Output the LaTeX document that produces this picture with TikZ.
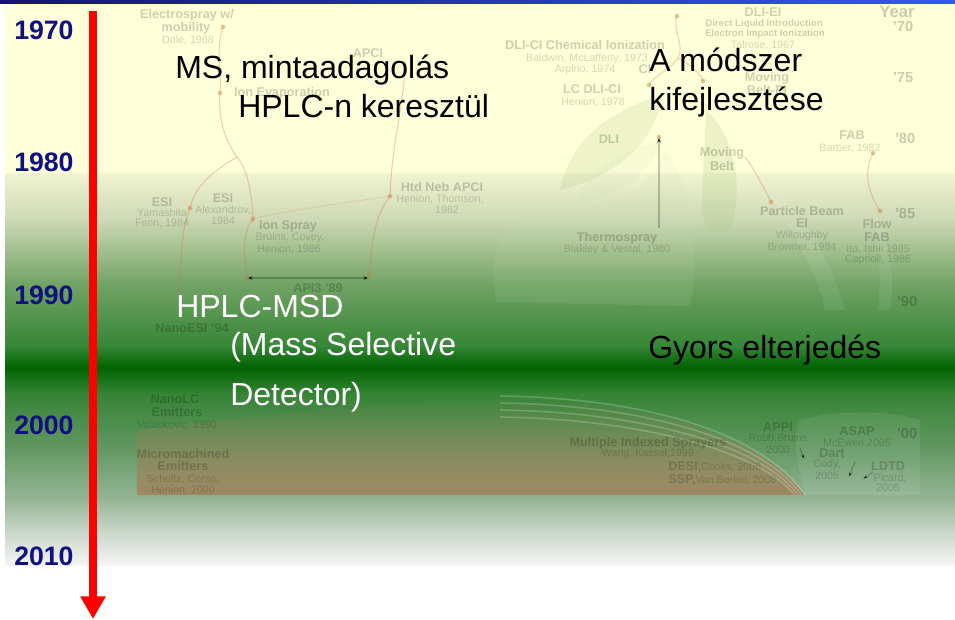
\documentclass[tikz,border=0pt]{standalone}
\usepackage{fontspec}
\setmainfont{Liberation Sans}
\usetikzlibrary{arrows.meta,fadings}

% palette
\definecolor{yearblue}{RGB}{16,16,128}
\definecolor{arrowred}{RGB}{255,0,0}
\definecolor{barnavy}{RGB}{20,20,110}
\definecolor{barblue}{RGB}{50,90,240}
\definecolor{branch}{RGB}{205,120,70}
\definecolor{leaf}{RGB}{170,200,130}
\definecolor{soil}{RGB}{160,125,85}
% background ramp, top to bottom
\definecolor{bgA}{RGB}{255,255,218}
\definecolor{bgB}{RGB}{240,243,208}
\definecolor{bgC}{RGB}{205,216,180}
\definecolor{bgD}{RGB}{112,162,100}
\definecolor{bgE}{RGB}{55,135,55}
\definecolor{bgF}{RGB}{0,100,0}
\definecolor{bgG}{RGB}{55,132,55}
\definecolor{bgH}{RGB}{100,152,100}
\definecolor{bgI}{RGB}{150,182,150}
\definecolor{bgJ}{RGB}{200,212,200}
\definecolor{bgK}{RGB}{245,245,245}

% stops: position p (px from top) maps to 75bp - 50bp*(p-3)/562
\pgfdeclareverticalshading{slidebg}{100bp}{%
  color(0bp)=(bgK); color(25bp)=(bgK); color(28.1bp)=(bgJ);
  color(30.8bp)=(bgI); color(35.2bp)=(bgH); color(40.2bp)=(bgG);
  color(42.6bp)=(bgF); color(44.5bp)=(bgE); color(49.9bp)=(bgD);
  color(55.7bp)=(bgC); color(59.8bp)=(bgB); color(60bp)=(bgA);
  color(100bp)=(bgA)}

\tikzset{
  fadetitle/.style={font=\bfseries\fontsize{9.5}{11}\selectfont, text=black, text opacity=.19, inner sep=0},
  fadeauthor/.style={font=\fontsize{8}{9.5}\selectfont, text=black, text opacity=.16, inner sep=0},
  fadesmall/.style={font=\bfseries\fontsize{7.2}{8.5}\selectfont, text=black, text opacity=.19, inner sep=0},
  fadeyear/.style={font=\bfseries\fontsize{11}{13}\selectfont, text=black, text opacity=.2, inner sep=0},
  yearlbl/.style={font=\bfseries\fontsize{20}{24}\selectfont, text=yearblue, anchor=west, inner sep=0},
  maintxt/.style={font=\fontsize{24}{28}\selectfont, anchor=base west, inner sep=0},
  branchline/.style={draw=branch, draw opacity=.33, line width=0.8pt},
  branchdot/.style={circle, fill=branch, fill opacity=.45, minimum size=3.5pt, inner sep=0},
  fadearrow/.style={draw=black, draw opacity=.22, line width=0.8pt},
}

\begin{document}
\begin{tikzpicture}[x=0.75pt, y=-0.75pt]
\useasboundingbox (0,0) rectangle (955,619);
\fill[white] (0,0) rectangle (955,619);

% slide background and title bar
\shade[shading=slidebg] (5,3) rectangle (955,565);
\shade[left color=barnavy, right color=barblue] (0,0) rectangle (955,3.5);

% ---- faded history tree ----
% leaves and bands
\fill[leaf, opacity=.2] (560,190) .. controls (570,140) and (610,110) .. (662,95)
      .. controls (656,140) and (620,175) .. (560,190) -- cycle;
\fill[leaf!60!white, opacity=.1] (497,302) .. controls (484,250) and (502,214) .. (560,210)
      .. controls (620,205) and (650,190) .. (665,150)
      .. controls (690,180) and (702,250) .. (690,306) -- cycle;
\fill[leaf!60!white, opacity=.14] (575,205) .. controls (590,165) and (625,150) .. (662,140)
      .. controls (650,175) and (620,195) .. (575,205) -- cycle;
\fill[leaf, opacity=.22] (706,110) .. controls (740,140) and (742,200) .. (730,228)
      .. controls (715,238) and (700,230) .. (702,200) -- cycle;
\fill[white, opacity=.07] (748,165) .. controls (790,200) and (830,250) .. (845,310)
      -- (825,310) .. controls (815,260) and (780,215) .. (748,165) -- cycle;
\fill[white, opacity=.07] (872,210) .. controls (892,240) and (895,280) .. (890,310)
      -- (878,310) .. controls (882,270) and (878,240) .. (872,210) -- cycle;

% soil band at the foot of the tree
\fill[soil, opacity=.8, path fading=north] (137,430) .. controls (250,415) and (400,400) .. (500,398)
      .. controls (620,396) and (760,430) .. (805,495) -- (137,495) -- cycle;
\fill[white, opacity=.08] (800,420) .. controls (840,408) and (900,412) .. (920,420)
      -- (920,495) -- (805,495) .. controls (800,470) and (790,440) .. (800,420) -- cycle;
\foreach \d in {0,7,14,21} {
  \draw[white, opacity=.2, line width=1.2pt]
    (500,396+\d) .. controls (640,398+\d) and (760,430+\d) .. (805-\d*0.5,495);
}

% branches
\coordinate (pEsw) at (223,27);
\coordinate (pIonEv) at (220,93);
\coordinate (pFork) at (237,157);
\coordinate (pEsiA) at (190,208);
\coordinate (pEsiB) at (180,300);
\coordinate (pIonSp) at (253,219);
\coordinate (pApiL) at (247,278);
\coordinate (pApciTop) at (405,62);
\coordinate (pHtd) at (390,196);
\coordinate (pApiR) at (369,275);
\coordinate (pDliTop) at (677,16);
\coordinate (pDliFork) at (678,58);
\coordinate (pDliCi) at (649,85);
\coordinate (pMoving) at (703,81);
\coordinate (pDli) at (659,137);
\coordinate (pThermo) at (659,228);
\coordinate (pBeltEnd) at (745,157);
\coordinate (pBeam) at (771,202);
\coordinate (pFab) at (873,153);
\coordinate (pFlow) at (880,211);

\draw[branchline] (pEsw) .. controls (215,50) and (222,75) .. (pIonEv)
      .. controls (218,120) and (225,140) .. (pFork);
\draw[branchline] (pFork) .. controls (215,170) and (195,185) .. (pEsiA)
      .. controls (183,225) and (180,250) .. (pEsiB);
\draw[branchline] (pFork) .. controls (248,170) and (252,195) .. (pIonSp)
      .. controls (240,235) and (245,260) .. (pApiL);
\draw[branchline, draw opacity=.15] (pIonSp) .. controls (290,210) and (330,205) .. (pHtd);
\draw[branchline] (pApciTop) .. controls (405,100) and (392,140) .. (pHtd)
      .. controls (375,215) and (372,240) .. (pApiR);
\draw[branchline] (pDliTop) .. controls (672,30) and (685,45) .. (pDliFork)
      .. controls (670,70) and (655,75) .. (pDliCi);
\draw[branchline] (pDliFork) .. controls (690,65) and (700,72) .. (pMoving);
\draw[branchline] (pBeltEnd) .. controls (755,170) and (765,190) .. (pBeam);
\draw[branchline] (pFab) .. controls (862,175) and (870,195) .. (pFlow);

\foreach \p in {pEsw,pIonEv,pEsiA,pIonSp,pApiL,pHtd,pApiR,pDliTop,pDliCi,pMoving,pDli,pBeam,pFab,pFlow}
  \node[branchdot] at (\p) {};

\draw[fadearrow, -{Stealth[length=5pt,width=4pt]}] (pThermo) -- (pDli);
\draw[fadearrow, {Stealth[length=5pt,width=4pt]}-{Stealth[length=5pt,width=4pt]}] (pApiL) -- (pApiR |- pApiL);

\coordinate (aA1) at (800,448); \coordinate (aA2) at (804,459);
\coordinate (aB1) at (855,461); \coordinate (aB2) at (849,477);
\coordinate (aC1) at (873,472); \coordinate (aC2) at (863,479);
\draw[fadearrow, -{Stealth[length=4pt,width=3pt]}] (aA1) -- (aA2);
\draw[fadearrow, -{Stealth[length=4pt,width=3pt]}] (aB1) -- (aB2);
\draw[fadearrow, -{Stealth[length=4pt,width=3pt]}] (aC1) -- (aC2);

% labels of the tree
\node[fadetitle] (esw1) at (187,15) {Electrospray w/};
\node[fadetitle] (esw2) at (186,28) {mobility};
\node[fadeauthor] (esw3) at (188,40) {Dole, 1968};
\node[fadetitle] (apci) at (368,53) {APCI};
\node[fadetitle] (ionev) at (282,93) {Ion Evaporation};
\node[fadetitle] (dlici1) at (585,45) {DLI-CI Chemical Ionization};
\node[fadeauthor] (dlici2) at (587,59) {Baldwin, McLafferty, 1973};
\node[fadeauthor] (dlici3) at (585,70) {Arpino, 1974};
\node[fadetitle] (ci) at (645,69) {CI};
\node[fadetitle] (lcdli1) at (592,89) {LC DLI-CI};
\node[fadeauthor] (lcdli2) at (593,102) {Henion, 1978};
\node[fadetitle] (dli) at (609,139) {DLI};
\node[fadetitle] (dliei1) at (763,12) {DLI-EI};
\node[fadesmall] (dliei2) at (764,24) {Direct Liquid Introduction};
\node[fadesmall] (dliei3) at (765,34) {Electron Impact Ionization};
\node[fadeauthor] (dliei4) at (763,45) {Talrose, 1967};
\node[fadetitle] (mbei1) at (767,78) {Moving};
\node[fadetitle] (mbei2) at (767,90) {Belt-EI};
\node[fadetitle] (fab1) at (852,135) {FAB};
\node[fadeauthor] (fab2) at (850,148) {Barber, 1982};
\node[fadetitle] (mbelt1) at (722,153) {Moving};
\node[fadetitle] (mbelt2) at (722,166) {Belt};
\node[fadetitle] (therm1) at (617,238) {Thermospray};
\node[fadeauthor] (therm2) at (617,250) {Blakley \& Vestal, 1980};
\node[fadetitle] (esiA1) at (162,202) {ESI};
\node[fadeauthor] (esiA2) at (162,213) {Yamashita};
\node[fadeauthor] (esiA3) at (162,223) {Fenn, 1984};
\node[fadetitle] (esiB1) at (223,198) {ESI};
\node[fadeauthor] (esiB2) at (223,210) {Alexandrov,};
\node[fadeauthor] (esiB3) at (223,221) {1984};
\node[fadetitle] (ions1) at (288,226) {Ion Spray};
\node[fadeauthor] (ions2) at (290,238) {Bruins, Covey,};
\node[fadeauthor] (ions3) at (289,249) {Henion, 1986};
\node[fadetitle] (htd1) at (442,187) {Htd Neb APCI};
\node[fadeauthor] (htd2) at (440,199) {Henion, Thomson,};
\node[fadeauthor] (htd3) at (447,210) {1982};
\node[fadetitle] (api3) at (318,288) {API3 '89};
\node[fadetitle] (pb1) at (802,211) {Particle Beam};
\node[fadetitle] (pb2) at (802,223) {EI};
\node[fadeauthor] (pb3) at (802,236) {Willoughby};
\node[fadeauthor] (pb4) at (802,247) {Browner, 1984};
\node[fadetitle] (ff1) at (877,224) {Flow};
\node[fadetitle] (ff2) at (877,237) {FAB};
\node[fadeauthor] (ff3) at (878,249) {Ito, Ishii 1985};
\node[fadeauthor] (ff4) at (878,260) {Caprioli, 1986};
\node[fadetitle] (nano) at (192,328) {NanoESI '94};
\node[fadetitle] (nlc1) at (175,399) {NanoLC};
\node[fadetitle] (nlc2) at (177,412) {Emitters};
\node[fadeauthor] (nlc3) at (177,425) {Valaskovic, 1990};
\node[fadetitle] (mm1) at (183,454) {Micromachined};
\node[fadetitle] (mm2) at (183,466) {Emitters};
\node[fadeauthor] (mm3) at (183,479) {Schultz, Corso,};
\node[fadeauthor] (mm4) at (183,490) {Henion, 2000};
\node[fadetitle] (mis1) at (648,443) {Multiple Indexed Sprayers};
\node[fadeauthor] (mis2) at (648,454) {Wang, Kassel,1999};
\node[fadeauthor, anchor=west] (desi) at (668,467) {{\bfseries\fontsize{9.5}{11}\selectfont DESI,}Cooks, 2006};
\node[fadeauthor, anchor=west] (ssp) at (668,480) {{\bfseries\fontsize{9.5}{11}\selectfont SSP,}Van Berkel, 2008};
\node[fadetitle] (appi1) at (778,427) {APPI};
\node[fadeauthor] (appi2) at (778,438) {Robb,Bruins};
\node[fadeauthor] (appi3) at (778,450) {2000};
\node[fadetitle] (asap1) at (857,431) {ASAP};
\node[fadeauthor] (asap2) at (857,443) {McEwen 2005};
\node[fadetitle] (dart1) at (832,453) {Dart};
\node[fadeauthor] (dart2) at (827,465) {Cody,};
\node[fadeauthor] (dart3) at (827,476) {2005};
\node[fadetitle] (ldtd1) at (888,466) {LDTD};
\node[fadeauthor] (ldtd2) at (890,478) {Picard,};
\node[fadeauthor] (ldtd3) at (888,488) {2005};

% decade marks on the right
\node[fadeyear, font=\bfseries\fontsize{12.5}{14}\selectfont] (yr) at (897,12) {Year};
\node[fadeyear] (yr70) at (903,26) {'70};
\node[fadeyear] (yr75) at (903,78) {'75};
\node[fadeyear] (yr80) at (905,138) {'80};
\node[fadeyear] (yr85) at (905,213) {'85};
\node[fadeyear] (yr90) at (907,301) {'90};
\node[fadeyear] (yr00) at (907,433) {'00};

% ---- main statements ----
\node[maintxt] (ms1) at (175,78) {MS, mintaadagolás};
\node[maintxt] (ms2) at (238,117) {HPLC-n keresztül};
\node[maintxt] (dev1) at (649,71) {A módszer};
\node[maintxt] (dev2) at (649,110) {kifejlesztése};
\node[maintxt, text=white] (msd1) at (176,317) {HPLC-MSD};
\node[maintxt, text=white] (msd2) at (230,355) {(Mass Selective};
\node[maintxt, text=white] (msd3) at (230,405) {Detector)};
\node[maintxt] (spread) at (648,358) {Gyors elterjedés};

% ---- decade axis ----
\node[yearlbl] (y1970) at (14,30) {1970};
\node[yearlbl] (y1980) at (14,162) {1980};
\node[yearlbl] (y1990) at (14,295) {1990};
\node[yearlbl] (y2000) at (14,425) {2000};
\node[yearlbl] (y2010) at (14,556) {2010};

\coordinate (axisTop) at (93,11);
\coordinate (axisEnd) at (93,619);
\draw[arrowred, line width=6.5pt, -{Triangle[width=18pt,length=17pt]}] (axisTop) -- (axisEnd);
\end{tikzpicture}
\end{document}
